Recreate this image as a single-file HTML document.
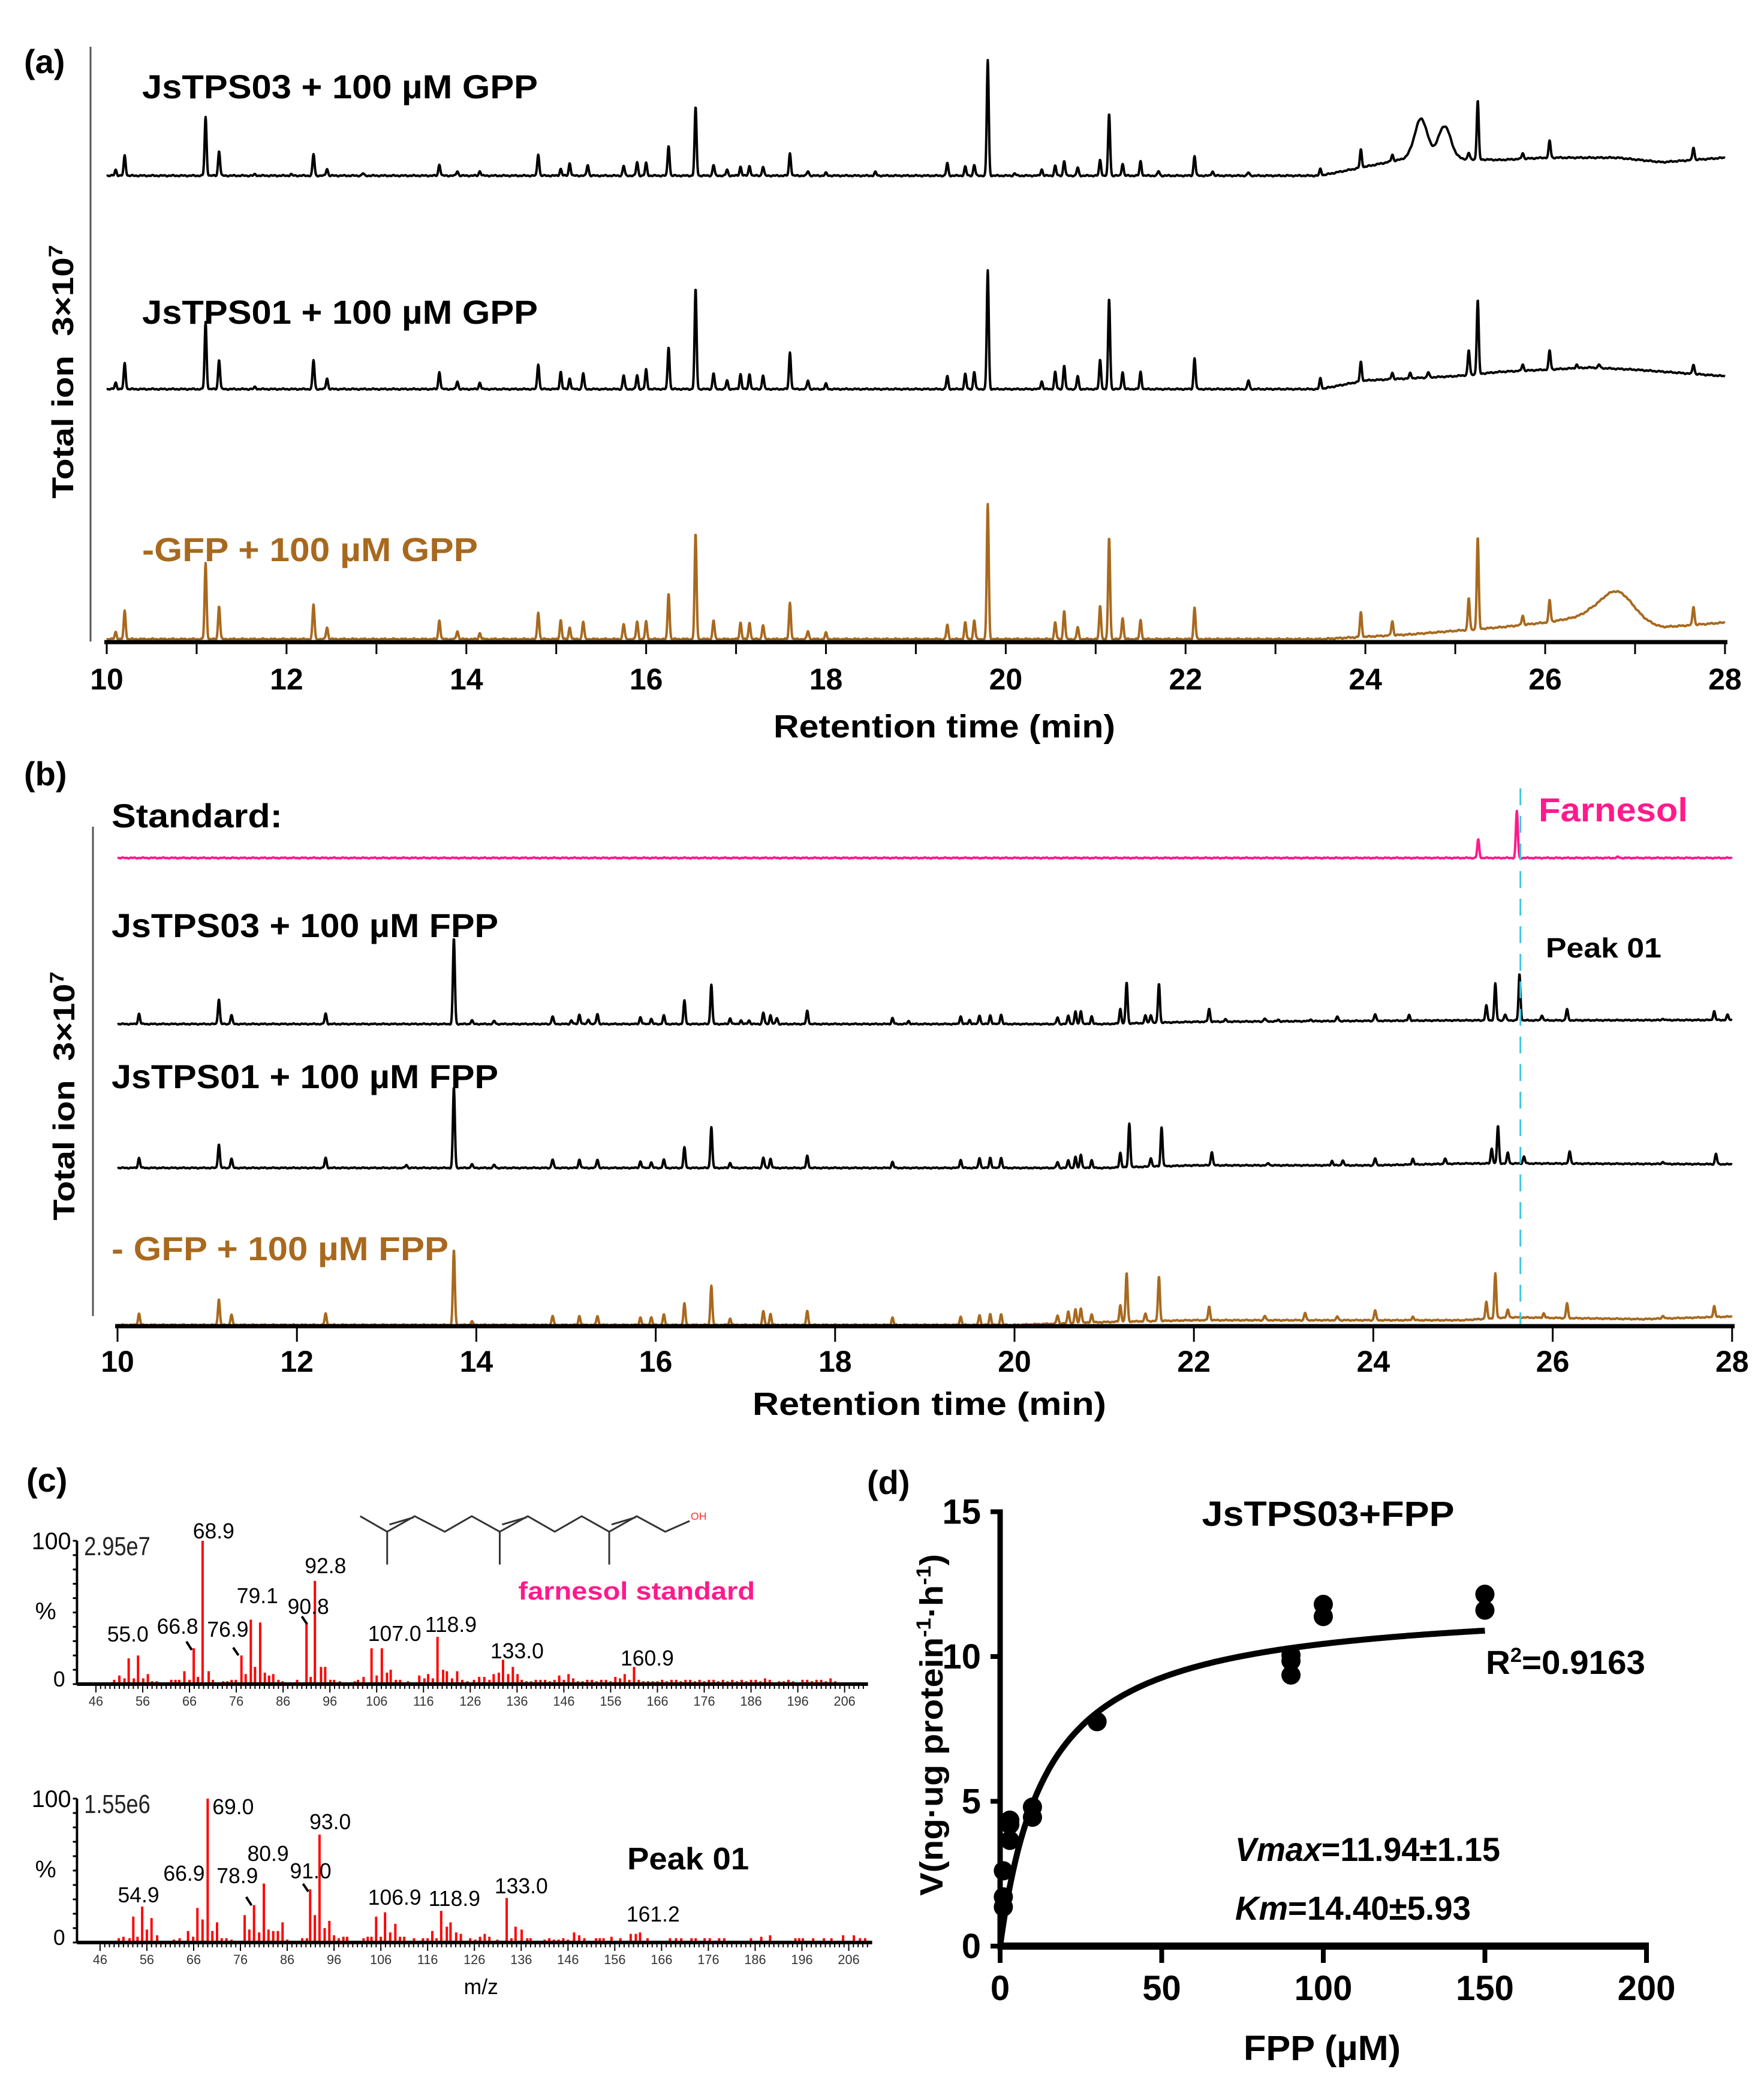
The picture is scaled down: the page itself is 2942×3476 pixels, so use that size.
<!DOCTYPE html>
<html><head><meta charset="utf-8"><style>
html,body{margin:0;padding:0;background:#fff}
svg{display:block}
text{font-family:"Liberation Sans",Arial,sans-serif}
.b{font-weight:bold}
</style></head><body>
<svg id="fig" width="2942" height="3476" viewBox="0 0 2942 3476" xmlns="http://www.w3.org/2000/svg">
<rect width="2942" height="3476" fill="#fff"/>
<g id="pa"></g>
<g id="pb"></g>
<g id="pcl"></g>
<g id="pc" transform="translate(-17.6,0) scale(0.9866,1)"></g>
<g id="pd"></g>
</svg>
<script>
// ---------- Panel (a) data: GPP chromatograms (time min, relative intensity) ----------
const aTicks = [10,12,14,16,18,20,22,24,26,28];
const a1Times = [10.1,10.2,11.1,11.25,11.65,12.05,12.3,12.45,12.85,13.7,13.9,14.15,14.8,15.05,15.15,15.35,15.75,15.9,16.0,16.25,16.55,16.75,16.9,17.05,17.15,17.3,17.6,17.8,18.0,18.55,19.35,19.55,19.65,19.8,20.1,20.4,20.55,20.65,20.8,21.05,21.15,21.3,21.5,21.7,22.1,22.3,22.7,23.5,23.95,24.3,25.15,25.25,25.75,26.05,27.65];
const a1Heights = [13,45,130,55,3,3,48,15,5,25,10,10,48,15,28,24,22,30,28,67,152,24,13,20,22,20,50,10,6,8,28,20,24,257,5,14,22,33,18,35,138,27,32,10,44,10,7,15,40,15,14,131,13,38,28];
const a1HumpT = [24.62,24.88];
const a1HumpH = [87,72];
const a1BaseT = [10,23.5,24,24.5,25.5,26,26.8,27.3,28];
const a1BaseL = [0,0,20,40,35,40,40,30,40];

const a2Times = [10.1,10.2,11.1,11.25,11.65,12.3,12.45,13.7,13.9,14.15,14.8,15.05,15.15,15.3,15.75,15.9,16.0,16.25,16.55,16.75,16.9,17.05,17.15,17.3,17.6,17.8,18.0,19.35,19.55,19.65,19.8,20.4,20.55,20.65,20.8,21.05,21.15,21.3,21.5,22.1,22.7,23.5,23.95,24.3,24.5,24.7,25.15,25.25,25.75,26.05,26.35,26.6,27.65];
const a2Heights = [15,60,155,68,5,67,25,40,18,15,58,40,25,37,32,32,45,98,232,37,20,35,35,32,85,20,12,30,35,40,275,18,40,55,30,68,210,40,40,72,20,25,45,15,12,12,57,172,15,44,8,8,22];
const a2HumpT = [];
const a2HumpH = [];
const a2BaseT = [10,23.5,24,25,25.5,26.5,27,28];
const a2BaseL = [0,0,20,30,40,50,45,30];

const a3Times = [10.1,10.2,11.1,11.25,12.3,12.45,13.7,13.9,14.15,14.8,15.05,15.15,15.3,15.75,15.9,16.0,16.25,16.55,16.75,17.05,17.15,17.3,17.6,17.8,18.0,19.35,19.55,19.65,19.8,20.55,20.65,20.8,21.05,21.15,21.3,21.5,22.1,23.95,24.3,25.15,25.25,25.75,26.05,27.65];
const a3Heights = [15,60,160,70,73,25,40,17,13,57,40,25,37,32,37,37,97,222,40,35,35,30,77,17,13,30,35,40,285,35,60,25,70,215,45,40,67,52,30,67,194,20,46,39];
const a3HumpT = [26.8];
const a3HumpH = [60];
const a3BaseT = [10,23.5,24.5,25.5,26,26.5,27.3,28];
const a3BaseL = [0,0,10,25,35,50,25,35];

// ---------- Panel (b) data: FPP chromatograms ----------
const b0Times = [25.17,25.6,26.73];
const b0Heights = [50,128,3];
const b0BaseT = [10,28];
const b0BaseL = [0,0];

const b1Times = [10.24,11.13,11.27,12.32,13.75,13.95,14.2,14.85,15.06,15.15,15.25,15.35,15.83,15.95,16.09,16.32,16.62,16.83,16.95,17.04,17.2,17.28,17.35,17.69,18.64,18.82,19.4,19.5,19.61,19.73,19.85,20.48,20.6,20.68,20.74,20.86,21.18,21.25,21.46,21.52,21.61,22.17,22.35,22.79,22.94,23.3,23.6,24.02,24.4,25.26,25.36,25.47,25.63,25.88,26.16,27.23,27.8,27.95];
const b1Heights = [28,68,24,28,234,10,8,21,10,26,13,28,19,14,23,63,108,16,10,10,31,24,16,36,16,8,21,11,24,24,26,18,23,33,36,21,40,112,20,22,107,35,6,8,4,5,12,18,15,40,100,16,126,14,30,4,24,14];
const b1BaseT = [10,21,22,25,26,28];
const b1BaseL = [0,0,6,10,10,11];

const b2Times = [10.24,11.13,11.27,12.32,13.22,13.75,13.95,14.2,14.85,15.15,15.35,15.83,15.95,16.09,16.32,16.62,16.83,17.2,17.28,17.69,18.64,19.4,19.61,19.73,19.85,20.48,20.6,20.68,20.74,20.86,21.18,21.28,21.52,21.64,22.2,22.83,23.54,23.66,24.02,24.44,24.8,25.32,25.39,25.5,25.68,26.19,27.23,27.82];
const b2Heights = [27,65,25,27,8,220,10,8,23,23,23,18,15,22,55,112,14,28,25,33,16,22,28,28,28,16,21,29,37,21,40,119,24,106,37,6,12,14,19,16,14,41,102,29,19,34,6,28];
const b2BaseT = [10,21,22,24,25,26,28];
const b2BaseL = [0,0,7,7,12,12,10];

const b3Times = [10.24,11.13,11.27,12.32,13.75,13.95,14.85,15.15,15.35,15.83,15.95,16.09,16.32,16.62,16.83,17.2,17.28,17.69,18.64,19.4,19.61,19.73,19.85,20.48,20.6,20.68,20.74,20.86,21.18,21.25,21.46,21.61,22.17,22.79,23.24,23.6,24.02,24.44,25.26,25.36,25.5,25.9,26.16,27.23,27.8];
const b3Heights = [31,71,28,31,205,10,25,25,25,21,21,28,58,108,18,38,30,38,20,23,28,30,30,22,32,36,40,22,45,133,20,122,37,12,20,10,27,10,45,121,20,12,40,8,30];
const b3BaseT = [10,20,21,22,25,25.5,27,28];
const b3BaseL = [0,0,8,13,13,21,16,23];

// ---------- Panel (c) data: mass spectra ----------
const mzTicks = [46,56,66,76,86,96,106,116,126,136,146,156,166,176,186,196,206];
const stdMz = [49.9,51,52.1,53,54.1,55,56.1,57.1,58,59,62.1,63,63.8,64.9,66,66.9,67.8,68.8,70.1,71,73.2,74.1,75,75.9,77.1,78,79.1,80,81.1,82.1,83,83.9,85,85.9,89,91,91.9,92.8,94.1,95,96.1,96.9,98.1,101.3,102,103.2,104.9,106,107.1,108.2,109,110.1,111,112.7,115.1,116.2,117,118,119,120.2,121,122.1,123.2,124.3,125.4,126.8,127.9,129,130.1,131,132.1,133,134.1,135.1,136.1,137,138,139,140,141,142,143,144,145,146,147,148,149,150,151,152,153,154,155,156,157,158,159,160,161,162,163,164,165,166,167,168,169,170,171,172,173,174,175,176,177,178,179,180,181,182,183,184,185,186,187,188,189,190,192,193,194,195,197,198,199,200,201,202,203,204];
const stdInt = [3,6,4,18,4,20,4,7,2,2,3,3,3,9,3,25,5,100,9,3,2,2,3,3,20,7,45,12,43,8,6,7,3,2,3,42,5,72,12,12,3,3,2,2,3,5,25,6,25,8,10,3,3,2,6,4,7,4,33,10,9,4,9,3,2,3,5,5,3,7,8,17,7,12,7,3,2,2,3,3,3,2,3,6,3,7,4,2,2,3,3,2,3,3,2,5,4,7,3,12,3,2,2,2,2,3,2,3,3,2,3,3,2,3,2,3,3,2,3,2,3,2,3,2,3,3,2,4,3,2,2,3,2,3,3,2,3,3,2,4,2];
const pkMz = [50,51,52.3,53.1,54,55,56,57,58.2,61.8,63,64.8,65.9,66.8,67.9,69,70,71,72,73,74.1,76.9,77.9,78.9,80,81,82,83,84,85,86,89.2,90.2,90.9,91.9,92.9,94,95,96,97,98,98.8,102.3,103.2,104,105,106,106.9,108,109.1,110.1,111,113.1,115,116,117,117.9,118.9,120.1,120.9,122.1,123.1,125.1,126.2,127.2,128.2,129.2,130.9,132.9,133.9,134.8,136.1,137.3,138,141,142,143,144,145,146,147.3,148.4,149.5,152,152.8,153.6,155.3,157.2,159.4,160.5,161.4,163,167.8,169.1,170.2,172.4,173.3,175.2,176.3,178.3,179.4,185.1,187.3,189.2,194.6,195.4,196.2,198.4,200.7,202.3,204.8,207.1,208.4,209.5];
const pkInt = [3,4,3,18,4,25,9,17,5,2,3,8,4,24,16,100,8,14,3,3,2,19,9,26,7,41,9,8,8,14,2,3,3,37,19,75,10,15,5,3,4,4,3,4,4,18,4,21,7,13,4,4,3,3,3,8,3,22,11,14,7,6,3,2,4,6,4,2,31,3,11,9,3,3,2,3,2,2,3,2,7,5,3,3,3,3,4,3,6,6,7,3,3,3,3,3,3,3,3,3,3,3,4,5,3,3,3,3,3,3,5,5,3,3];
const stdLabels = ["55.0","66.8","68.9","76.9","79.1","90.8","92.8","107.0","118.9","133.0","160.9"];
const pkLabels = ["54.9","66.9","69.0","78.9","80.9","91.0","93.0","106.9","118.9","133.0","161.2"];

// ---------- Panel (d) data: kinetics ----------
const fppConc = [1,1,1,3,3,3,10,10,30,90,90,90,100,100,150,150];
const rateV = [1.35,1.7,2.6,3.65,4.2,4.35,4.45,4.8,7.75,9.36,9.85,10.05,11.38,11.8,11.6,12.15];
const fitVmax = [11.94];
const fitKm = [14.40];
const dXTicks = [0,50,100,150,200];
const dYTicks = [0,5,10,15];

const NS = "http://www.w3.org/2000/svg";
function mk(parent, tag, attrs, txt){
  const e = document.createElementNS(NS, tag);
  for (const k in attrs) e.setAttribute(k, attrs[k]);
  if (txt !== undefined) e.textContent = txt;
  parent.appendChild(e);
  return e;
}
function interp(ts, ls, t){
  if (t <= ts[0]) return ls[0];
  for (let i=1;i<ts.length;i++){ if (t <= ts[i]) { const f=(t-ts[i-1])/(ts[i]-ts[i-1]); return ls[i-1]+f*(ls[i]-ls[i-1]); } }
  return ls[ls.length-1];
}
function chromPath(xf, y0, k, times, heights, humpT, humpH, baseT, baseL){
  let d = "";
  const sig = 0.011, hsig = 0.07;
  for (let i=0;i<=4500;i++){
    const t = 10 + i*0.004;
    let v = interp(baseT, baseL, t);
    for (let j=0;j<times.length;j++){ const z=(t-times[j])/sig; if (Math.abs(z)<5) v += heights[j]*Math.exp(-z*z/2); }
    for (let j=0;j<humpT.length;j++){ const s = humpT[j]>26 ? 0.18 : hsig; const z=(t-humpT[j])/s; v += humpH[j]*Math.exp(-z*z/2); }
    v += 1.5*Math.sin(t*97.3)*Math.sin(t*41.1);
    d += (i?"L":"M") + xf(t).toFixed(1) + "," + (y0 - v*k).toFixed(1);
  }
  return d;
}

// ================= Panel (a) =================
const pa = document.getElementById('pa');
const xa = t => 178 + (t-10)*149.94;
let el;
el = mk(pa,'text',{x:40,y:122,'font-size':56,class:'b'},'(a)');


el = mk(pa,'line',{x1:151,y1:78,x2:151,y2:1070,stroke:'#555','stroke-width':3});


el = mk(pa,'text',{transform:'translate(122,620) rotate(-90)','text-anchor':'middle','font-size':50,class:'b',textLength:423,lengthAdjust:'spacingAndGlyphs'});


el.innerHTML = 'Total ion&#160;&#160;3×10<tspan dy="-18" font-size="32">7</tspan>';
const aTraces = [
  [293, 0.75, a1Times,a1Heights,a1HumpT,a1HumpH,a1BaseT,a1BaseL,'#000','trace-jstps03-gpp'],
  [649, 0.72, a2Times,a2Heights,a2HumpT,a2HumpH,a2BaseT,a2BaseL,'#000','trace-jstps01-gpp'],
  [1066,0.79, a3Times,a3Heights,a3HumpT,a3HumpH,a3BaseT,a3BaseL,'#a8691e','trace-gfp-gpp']
];
aTraces.forEach(tr=>{
  el = mk(pa,'path',{d:chromPath(xa,tr[0],tr[1],tr[2],tr[3],tr[4],tr[5],tr[6],tr[7]),fill:'none',stroke:tr[8],'stroke-width':4,'stroke-linejoin':'round'});
  
  
});
el = mk(pa,'text',{x:237,y:164,'font-size':56,class:'b',textLength:660,lengthAdjust:'spacingAndGlyphs'},'JsTPS03 + 100 µM GPP');


el = mk(pa,'text',{x:237,y:540,'font-size':56,class:'b',textLength:660,lengthAdjust:'spacingAndGlyphs'},'JsTPS01 + 100 µM GPP');


el = mk(pa,'text',{x:237,y:936,'font-size':56,class:'b',fill:'#a8691e',textLength:560,lengthAdjust:'spacingAndGlyphs'},'-GFP + 100 µM GPP');


el = mk(pa,'line',{x1:174,y1:1071,x2:2881,y2:1071,stroke:'#000','stroke-width':7});


for (let t=10;t<=28;t++){
  el = mk(pa,'line',{x1:xa(t),y1:1071,x2:xa(t),y2:1091,stroke:'#000','stroke-width':3});
  
  
}
aTicks.forEach(t=>{
  el = mk(pa,'text',{x:xa(t),y:1150,'text-anchor':'middle','font-size':50,class:'b'},String(t));
  
  
});
el = mk(pa,'text',{x:1575,y:1230,'text-anchor':'middle','font-size':54,class:'b',textLength:570,lengthAdjust:'spacingAndGlyphs'},'Retention time (min)');



// ================= Panel (b) =================
const pb = document.getElementById('pb');
const xb = t => 196 + (t-10)*149.6;
el = mk(pb,'text',{x:40,y:1310,'font-size':56,class:'b'},'(b)');


el = mk(pb,'line',{x1:155,y1:1379,x2:155,y2:2195,stroke:'#555','stroke-width':3});


el = mk(pb,'text',{transform:'translate(124,1828) rotate(-90)','text-anchor':'middle','font-size':50,class:'b',textLength:415,lengthAdjust:'spacingAndGlyphs'});


el.innerHTML = 'Total ion&#160;&#160;3×10<tspan dy="-18" font-size="32">7</tspan>';
const bTraces = [
  [1431,b0Times,b0Heights,b0BaseT,b0BaseL,'#ff1a8c','trace-farnesol-standard'],
  [1708,b1Times,b1Heights,b1BaseT,b1BaseL,'#000','trace-jstps03-fpp'],
  [1948,b2Times,b2Heights,b2BaseT,b2BaseL,'#000','trace-jstps01-fpp'],
  [2210,b3Times,b3Heights,b3BaseT,b3BaseL,'#a8691e','trace-gfp-fpp']
];
bTraces.forEach((tr,i)=>{
  el = mk(pb,'path',{d:chromPath(xb,tr[0],0.612,tr[1],tr[2],[],[],tr[3],tr[4]),fill:'none',stroke:tr[5],'stroke-width':4,'stroke-linejoin':'round'});
  
  
});
el = mk(pb,'line',{x1:xb(25.64),y1:1315,x2:xb(25.64),y2:2212,stroke:'#3cc8e0','stroke-width':3,'stroke-dasharray':'28,18'});


el = mk(pb,'text',{x:186,y:1380,'font-size':56,class:'b',textLength:285,lengthAdjust:'spacingAndGlyphs'},'Standard:');


el = mk(pb,'text',{x:2566,y:1370,'font-size':56,class:'b',fill:'#ff1a8c',textLength:249,lengthAdjust:'spacingAndGlyphs'},'Farnesol');


el = mk(pb,'text',{x:186,y:1563,'font-size':56,class:'b',textLength:645,lengthAdjust:'spacingAndGlyphs'},'JsTPS03 + 100 µM FPP');


el = mk(pb,'text',{x:2578,y:1597,'font-size':46,class:'b',textLength:193,lengthAdjust:'spacingAndGlyphs'},'Peak 01');


el = mk(pb,'text',{x:186,y:1815,'font-size':56,class:'b',textLength:645,lengthAdjust:'spacingAndGlyphs'},'JsTPS01 + 100 µM FPP');


el = mk(pb,'text',{x:186,y:2102,'font-size':56,class:'b',fill:'#a8691e',textLength:562,lengthAdjust:'spacingAndGlyphs'},'- GFP + 100 µM FPP');


el = mk(pb,'line',{x1:192,y1:2212,x2:2893,y2:2212,stroke:'#000','stroke-width':7});


aTicks.forEach(t=>{
  el = mk(pb,'line',{x1:xb(t),y1:2212,x2:xb(t),y2:2238,stroke:'#000','stroke-width':3});
  
  
  el = mk(pb,'text',{x:xb(t),y:2288,'text-anchor':'middle','font-size':50,class:'b'},String(t));
  
  
});
el = mk(pb,'text',{x:1550,y:2360,'text-anchor':'middle','font-size':54,class:'b',textLength:590,lengthAdjust:'spacingAndGlyphs'},'Retention time (min)');



// ================= Panel (c) =================
const pcl = document.getElementById('pcl');
const pc = document.getElementById('pc');
el = mk(pcl,'text',{x:44,y:2488,'font-size':56,class:'b'},'(c)');


function spectrum(x46, base, top, mzs, ints, labels, intLabel, nm){
  const g = mk(pc,'g',{});
  
  
  const xm = mz => x46 + (mz-46)*7.91;
  const ys = v => base - v/100*(base-top);
  mzs.forEach((m,i)=>{
    el = mk(g,'line',{x1:xm(m),y1:base,x2:xm(m),y2:ys(ints[i]),stroke:'#ff0000','stroke-width':4});
    
    
  });
  el = mk(g,'line',{x1:148,y1:base,x2:xm(211),y2:base,stroke:'#000','stroke-width':6});
  
  
  for (let m=46;m<=210;m++){
    el = mk(g,'line',{x1:xm(m),y1:base,x2:xm(m),y2:base+((m-46)%10===0?14:8),stroke:'#000','stroke-width':2});
    
    
  }
  mzTicks.forEach(m=>{
    el = mk(g,'text',{x:xm(m),y:base+36,'text-anchor':'middle','font-size':22,fill:'#333'},String(m));
    
    
  });
  el = mk(g,'line',{x1:148,y1:top,x2:148,y2:base,stroke:'#000','stroke-width':4});
  
  
  for (let k=0;k<=10;k++){
    el = mk(g,'line',{x1:141,y1:top+k*(base-top)/10,x2:148,y2:top+k*(base-top)/10,stroke:'#000','stroke-width':3});
    
    
  }
  el = mk(g,'text',{x:138,y:top+14,'text-anchor':'end','font-size':40},'100');
  
  
  el = mk(g,'text',{x:95,y:top+(base-top)*0.49+14,'text-anchor':'middle','font-size':40},'%');
  
  
  el = mk(g,'text',{x:128,y:base+4,'text-anchor':'end','font-size':36},'0');
  
  
  el = mk(g,'text',{x:160,y:top+24,'font-size':44,fill:'#222',textLength:112,lengthAdjust:'spacingAndGlyphs'},intLabel);
  
  
  return {xm, ys, g};
}
const sU = spectrum(180, 2809, 2570, stdMz, stdInt, stdLabels, '2.95e7', 'spectrum-farnesol-standard');
const sL = spectrum(187, 3240, 3000, pkMz, pkInt, pkLabels, '1.55e6', 'spectrum-peak01');
const upLabPos = [[234,2738],[318,2725],[379,2566],[403,2730],[453,2674],[539,2692],[568,2624],[685,2737],[780,2722],[892,2766],[1112,2778]];
stdLabels.forEach((s,i)=>{
  el = mk(pc,'text',{x:upLabPos[i][0],y:upLabPos[i][1],'text-anchor':'middle','font-size':36},s);
  
  
});
const loLabPos = [[252,3173],[329,3137],[412,3026],[419,3141],[471,3104],[543,3133],[576,3051],[685,3177],[786,3179],[899,3158],[1122,3205]];
pkLabels.forEach((s,i)=>{
  el = mk(pc,'text',{x:loLabPos[i][0],y:loLabPos[i][1],'text-anchor':'middle','font-size':36},s);
  
  
});
[[333,2738,342,2752],[412,2748,421,2761],[528,2696,537,2709],[434,3164,443,3178],[530,3142,539,3155]].forEach(p=>{
  el = mk(pc,'line',{x1:p[0],y1:p[1],x2:p[2],y2:p[3],stroke:'#000','stroke-width':4});
  
  
});
// farnesol structure
const sx = x => 140 + x*0.877, sy = y => 2520 + y*0.4975;
const zig = [[555,18],[607,70],[660,18],[718,70],[770,18],[824,70],[878,18],[930,70],[982,18],[1035,70],[1088,18],[1143,70],[1190,34]];
const sg = mk(pc,'g',{stroke:'#333','stroke-width':3,fill:'none'});


mk(sg,'polyline',{points:zig.map(p=>sx(p[0])+','+sy(p[1])).join(' ')});
[[607],[824],[1035]].forEach(p=>mk(sg,'line',{x1:sx(p[0]),y1:sy(70),x2:sx(p[0]),y2:sy(180)}));
[[607,660],[824,878],[1035,1088]].forEach(p=>mk(sg,'line',{x1:sx(p[0])+4,y1:sy(70)-12,x2:sx(p[1])-2,y2:sy(18)+2}));
el = mk(pc,'text',{x:sx(1192),y:sy(30),'font-size':18,fill:'#ff3030'},'OH');


el = mk(pc,'text',{x:1094,y:2668,'text-anchor':'middle','font-size':42,class:'b',fill:'#ff1a8c',textLength:400,lengthAdjust:'spacingAndGlyphs'},'farnesol standard');


el = mk(pc,'text',{x:1181,y:3118,'text-anchor':'middle','font-size':52,class:'b',textLength:206,lengthAdjust:'spacingAndGlyphs'},'Peak 01');


el = mk(pc,'text',{x:831,y:3326,'text-anchor':'middle','font-size':36},'m/z');



// ================= Panel (d) =================
const pd = document.getElementById('pd');
const xd = s => 1668 + s*5.39;
const yd = v => 3246 - v*48.3;
el = mk(pd,'text',{x:1446,y:2492,'font-size':56,class:'b'},'(d)');


el = mk(pd,'line',{x1:xd(0),y1:yd(15)-4,x2:xd(0),y2:yd(0)+6,stroke:'#000','stroke-width':9});


el = mk(pd,'line',{x1:xd(0)-4,y1:yd(0),x2:xd(200)+4,y2:yd(0),stroke:'#000','stroke-width':12});


dYTicks.forEach(v=>{
  el = mk(pd,'line',{x1:xd(0)-16,y1:yd(v),x2:xd(0),y2:yd(v),stroke:'#000','stroke-width':8});
  
  
  el = mk(pd,'text',{x:1636,y:yd(v)+20,'text-anchor':'end','font-size':58,class:'b'},String(v));
  
  
});
dXTicks.forEach(s=>{
  el = mk(pd,'line',{x1:xd(s),y1:yd(0),x2:xd(s),y2:yd(0)+28,stroke:'#000','stroke-width':8});
  
  
  el = mk(pd,'text',{x:xd(s),y:3336,'text-anchor':'middle','font-size':58,class:'b'},String(s));
  
  
});
let cd = "";
for (let i=0;i<=300;i++){ const s=i*0.5; const v=fitVmax[0]*s/(fitKm[0]+s); cd += (i?"L":"M")+xd(s).toFixed(1)+","+yd(v).toFixed(1); }
el = mk(pd,'path',{d:cd,fill:'none',stroke:'#000','stroke-width':10});


fppConc.forEach((s,i)=>{
  el = mk(pd,'circle',{cx:xd(s),cy:yd(rateV[i]),r:16,fill:'#000'});
  
  
});
el = mk(pd,'text',{x:2215,y:2545,'text-anchor':'middle','font-size':58,class:'b',textLength:421,lengthAdjust:'spacingAndGlyphs'},'JsTPS03+FPP');


el = mk(pd,'text',{x:2478,y:2792,'font-size':56,class:'b',textLength:266,lengthAdjust:'spacingAndGlyphs'});


el.innerHTML = 'R<tspan dy="-20" font-size="34">2</tspan><tspan dy="20">=0.9163</tspan>';
el = mk(pd,'text',{x:2060,y:3104,'font-size':56,class:'b',textLength:442,lengthAdjust:'spacingAndGlyphs'});


el.innerHTML = '<tspan font-style="italic">Vmax</tspan>=11.94±1.15';
el = mk(pd,'text',{x:2060,y:3202,'font-size':56,class:'b',textLength:393,lengthAdjust:'spacingAndGlyphs'});


el.innerHTML = '<tspan font-style="italic">Km</tspan>=14.40±5.93';
el = mk(pd,'text',{x:2205,y:3436,'text-anchor':'middle','font-size':58,class:'b',textLength:262,lengthAdjust:'spacingAndGlyphs'},'FPP (µM)');


el = mk(pd,'text',{transform:'translate(1572,2877) rotate(-90)','text-anchor':'middle','font-size':54,class:'b',textLength:570,lengthAdjust:'spacingAndGlyphs'});


el.innerHTML = 'V(ng·ug protein<tspan dy="-20" font-size="34">-1</tspan><tspan dy="20">·h</tspan><tspan dy="-20" font-size="34">-1</tspan><tspan dy="20">)</tspan>';
</script>
</body></html>
